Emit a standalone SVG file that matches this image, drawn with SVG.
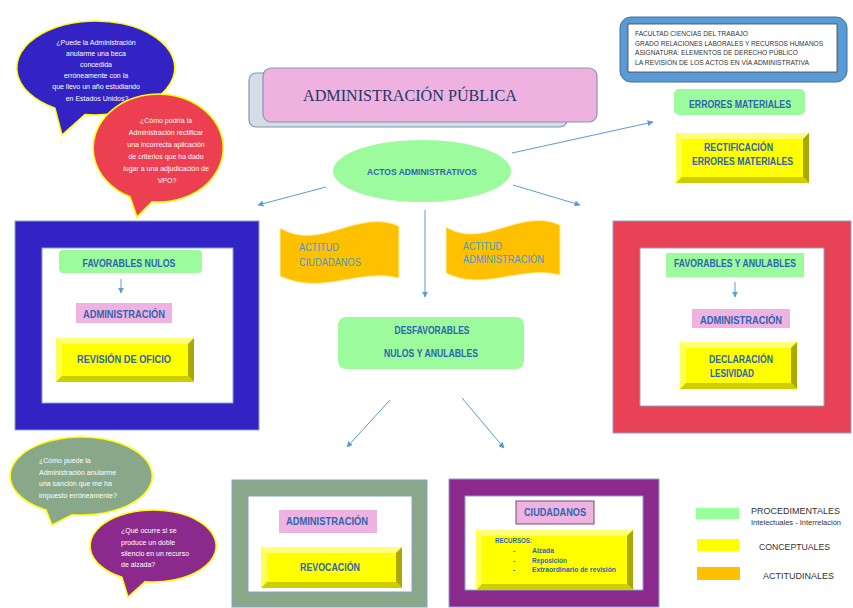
<svg xmlns="http://www.w3.org/2000/svg" width="853" height="608" viewBox="0 0 853 608">
<defs>
<marker id="ah" viewBox="0 0 10 10" refX="9" refY="5" markerWidth="6" markerHeight="6" orient="auto" markerUnits="userSpaceOnUse">
<path d="M0,0 L10,5 L0,10 Z" fill="#5b9bd5"/>
</marker>
<style>
text{font-family:"Liberation Sans",Arial,sans-serif}
.serif{font-family:"Liberation Serif","Times New Roman",serif}
.lbl{font-weight:bold;font-size:10px;fill:#2e64b0}
.lbl.sm{font-size:7px}
.lbl.md{font-size:9px}
.att{font-size:10px;fill:#4a96d6}
.bub{font-size:7px;fill:#ffffff}
.hdr{font-size:7px;fill:#333333}
.leg{font-size:9.5px;fill:#333333}
.leg.sm{font-size:6.5px}
.green{fill:#9cfb9c}
.pink{fill:#efb3e1}
.frame-in{fill:#ffffff;stroke:#8aa2c8;stroke-width:1}
.bv-face{fill:#ffff00}
.bv-top{fill:#ffff7a}
.bv-left{fill:#ffff55}
.bv-right{fill:#a9a900}
.bv-bot{fill:#cdcd00}
.wave{fill:#ffc000;stroke:#fff099;stroke-width:1}
.conn{stroke:#5b9bd5;stroke-width:1;fill:none;marker-end:url(#ah)}
.bubs{stroke:#ffff00;stroke-width:1.5}
</style>
</defs>

<!-- speech bubbles -->
<g id="bubble-beca">
<path class="bubs" fill="#3323c4" d="M55,108.2 A79 47 0 1 1 85,114.5 L62,135 Z"/>
<text class="bub" text-anchor="middle">
<tspan x="97" y="45">¿Puede la Administración</tspan>
<tspan x="97" y="56">anularme una beca</tspan>
<tspan x="97" y="66.5">concedida</tspan>
<tspan x="97" y="77.5">erróneamente con la</tspan>
<tspan x="97" y="89">que llevo un año estudiando</tspan>
<tspan x="97" y="101">en Estados Unidos?</tspan>
</text>
</g>
<g id="bubble-vpo">
<path class="bubs" fill="#ec4052" d="M130,196.7 A65 54 0 1 1 152,201.8 L137,217 Z"/>
<text class="bub" text-anchor="middle">
<tspan x="167" y="122.5">¿Cómo podría la</tspan>
<tspan x="167" y="134.5">Administración rectificar</tspan>
<tspan x="167" y="146.5">una incorrecta aplicación</tspan>
<tspan x="167" y="159">de criterios que ha dado</tspan>
<tspan x="167" y="170.5">lugar a una adjudicación de</tspan>
<tspan x="167" y="182.5">VPO?</tspan>
</text>
</g>
<g id="bubble-sancion">
<path class="bubs" fill="#89a889" d="M46,509.9 A71 39 0 1 1 72,514.7 L52,525 Z"/>
<text class="bub">
<tspan x="39" y="462.5">¿Cómo puede la</tspan>
<tspan x="39" y="474.5">Administración anularme</tspan>
<tspan x="39" y="485.5">una sanción que me ha</tspan>
<tspan x="39" y="497.5">impuesto erróneamente?</tspan>
</text>
</g>
<g id="bubble-silencio">
<path class="bubs" fill="#8b2a8c" d="M122,577.3 A63 36 0 1 1 145,581.7 L128,597 Z"/>
<text class="bub">
<tspan x="121" y="532.5">¿Qué ocurre si se</tspan>
<tspan x="121" y="544.5">produce un doble</tspan>
<tspan x="121" y="555.5">silencio en un recurso</tspan>
<tspan x="121" y="566.5">de alzada?</tspan>
</text>
</g>

<!-- title -->
<g id="title">
<rect x="249" y="73" width="318" height="54" rx="7" fill="#d6dce5" stroke="#8497b0" stroke-width="1.2"/>
<rect x="263" y="68" width="334" height="54" rx="8" fill="#efb1df" stroke="#8497b0" stroke-width="1.2"/>
<text class="serif" x="303" y="101" font-size="16" fill="#1f3864" textLength="214" lengthAdjust="spacingAndGlyphs">ADMINISTRACIÓN PÚBLICA</text>
</g>

<!-- header -->
<g id="header">
<rect x="620" y="17" width="227" height="65" rx="11" fill="#5b9bd5" stroke="#41719c" stroke-width="1"/>
<rect x="628" y="24" width="209" height="48" fill="#ffffff" stroke="#404040" stroke-width="0.8"/>
<text class="hdr" x="635" y="36" textLength="113" lengthAdjust="spacingAndGlyphs">FACULTAD CIENCIAS DEL TRABAJO</text>
<text class="hdr" x="635" y="45.5" textLength="188" lengthAdjust="spacingAndGlyphs">GRADO RELACIONES LABORALES Y RECURSOS HUMANOS</text>
<text class="hdr" x="635" y="55" textLength="163" lengthAdjust="spacingAndGlyphs">ASIGNATURA: ELEMENTOS DE DERECHO PÚBLICO</text>
<text class="hdr" x="635" y="64.5" textLength="174" lengthAdjust="spacingAndGlyphs">LA REVISIÓN DE LOS ACTOS EN VÍA ADMINISTRATIVA</text>
</g>

<!-- actos administrativos -->
<g id="actos">
<ellipse cx="422" cy="171" rx="89" ry="31" class="green"/>
<text class="lbl md" x="422" y="174.5" text-anchor="middle" textLength="110" lengthAdjust="spacingAndGlyphs">ACTOS ADMINISTRATIVOS</text>
</g>

<g id="errores-materiales">
<rect x="674" y="89" width="131" height="26" rx="5" class="green"/>
<text class="lbl" x="740" y="107.5" text-anchor="middle" textLength="102" lengthAdjust="spacingAndGlyphs">ERRORES MATERIALES</text>
</g>

<g id="rectificacion">
<rect x="676" y="133" width="133" height="50" class="bv-face"/>
<path class="bv-top" d="M676,133 L809,133 L803,139 L682,139 Z"/>
<path class="bv-left" d="M676,133 L682,139 L682,177 L676,183 Z"/>
<path class="bv-right" d="M809,133 L809,183 L803,177 L803,139 Z"/>
<path class="bv-bot" d="M676,183 L682,177 L803,177 L809,183 Z"/>
<text class="lbl" x="704" y="150.5" textLength="69" lengthAdjust="spacingAndGlyphs">RECTIFICACIÓN</text>
<text class="lbl" x="692" y="164.5" textLength="101" lengthAdjust="spacingAndGlyphs">ERRORES MATERIALES</text>
</g>

<!-- left frame -->
<g id="favorables-nulos-frame">
<rect x="15" y="221" width="244" height="209" fill="#3323c4" stroke="#8aa2c8" stroke-width="1"/>
<rect x="42" y="248" width="191" height="155" class="frame-in"/>
</g>
<g id="favorables-nulos">
<rect x="59" y="250" width="143" height="23" rx="4" class="green"/>
<text class="lbl" x="129" y="266.5" text-anchor="middle" textLength="93" lengthAdjust="spacingAndGlyphs">FAVORABLES NULOS</text>
</g>
<g id="admin-left">
<rect x="76" y="303" width="96" height="20" class="pink"/>
<text class="lbl" x="124" y="317.5" text-anchor="middle" textLength="82" lengthAdjust="spacingAndGlyphs">ADMINISTRACIÓN</text>
</g>
<g id="revision-oficio">
<rect x="56" y="338" width="138" height="44" class="bv-face"/>
<path class="bv-top" d="M56,338 L194,338 L188,344 L62,344 Z"/>
<path class="bv-left" d="M56,338 L62,344 L62,376 L56,382 Z"/>
<path class="bv-right" d="M194,338 L194,382 L188,376 L188,344 Z"/>
<path class="bv-bot" d="M56,382 L62,376 L188,376 L194,382 Z"/>
<text class="lbl" x="124" y="362.5" text-anchor="middle" textLength="94" lengthAdjust="spacingAndGlyphs">REVISIÓN  DE OFICIO</text>
</g>

<!-- attitude flags -->
<g id="actitud-ciudadanos">
<path class="wave" d="M280,228 C320,252 358,208 399,226 L399,278 C358,268 322,296 280,276 Z"/>
<text class="att" x="299" y="250.5" textLength="40" lengthAdjust="spacingAndGlyphs">ACTITUD</text>
<text class="att" x="299" y="265.5" textLength="62" lengthAdjust="spacingAndGlyphs">CIUDADANOS</text>
</g>
<g id="actitud-administracion">
<path class="wave" d="M446,227 C484,250 520,207 560,225 L560,275 C520,265 484,292 446,273 Z"/>
<text class="att" x="463" y="249.5" textLength="39" lengthAdjust="spacingAndGlyphs">ACTITUD</text>
<text class="att" x="463" y="262.5" textLength="81" lengthAdjust="spacingAndGlyphs">ADMINISTRACIÓN</text>
</g>

<!-- desfavorables -->
<g id="desfavorables">
<rect x="338" y="317" width="186" height="52" rx="8" class="green"/>
<text class="lbl" x="432" y="333.5" text-anchor="middle" textLength="75" lengthAdjust="spacingAndGlyphs">DESFAVORABLES</text>
<text class="lbl" x="431" y="356.5" text-anchor="middle" textLength="94" lengthAdjust="spacingAndGlyphs">NULOS Y ANULABLES</text>
</g>

<!-- right frame -->
<g id="favorables-anulables-frame">
<rect x="613" y="221" width="238" height="212" fill="#e94256" stroke="#8aa2c8" stroke-width="1"/>
<rect x="640" y="248" width="184" height="158" class="frame-in"/>
</g>
<g id="favorables-anulables">
<rect x="666" y="253" width="138" height="24" class="green"/>
<text class="lbl" x="735" y="266.5" text-anchor="middle" textLength="122" lengthAdjust="spacingAndGlyphs">FAVORABLES Y ANULABLES</text>
</g>
<g id="admin-right">
<rect x="692" y="309" width="98" height="19" class="pink"/>
<text class="lbl" x="741" y="323.5" text-anchor="middle" textLength="82" lengthAdjust="spacingAndGlyphs">ADMINISTRACIÓN</text>
</g>
<g id="declaracion-lesividad">
<rect x="680" y="342" width="117" height="47" class="bv-face"/>
<path class="bv-top" d="M680,342 L797,342 L791,348 L686,348 Z"/>
<path class="bv-left" d="M680,342 L686,348 L686,383 L680,389 Z"/>
<path class="bv-right" d="M797,342 L797,389 L791,383 L791,348 Z"/>
<path class="bv-bot" d="M680,389 L686,383 L791,383 L797,389 Z"/>
<text class="lbl" x="709" y="362.5" textLength="64" lengthAdjust="spacingAndGlyphs">DECLARACIÓN</text>
<text class="lbl" x="710" y="376.5" textLength="44" lengthAdjust="spacingAndGlyphs">LESIVIDAD</text>
</g>

<!-- bottom green-gray frame -->
<g id="revocacion-frame">
<rect x="232" y="480" width="195" height="127" fill="#89a889" stroke="#8aa2c8" stroke-width="1"/>
<rect x="248" y="496" width="164" height="96" class="frame-in"/>
</g>
<g id="admin-bottom">
<rect x="279" y="510" width="98" height="23" class="pink"/>
<text class="lbl" x="327" y="524.5" text-anchor="middle" textLength="82" lengthAdjust="spacingAndGlyphs">ADMINISTRACIÓN</text>
</g>
<g id="revocacion">
<rect x="261" y="547" width="141" height="41" class="bv-face"/>
<path class="bv-top" d="M261,547 L402,547 L396,553 L267,553 Z"/>
<path class="bv-left" d="M261,547 L267,553 L267,582 L261,588 Z"/>
<path class="bv-right" d="M402,547 L402,588 L396,582 L396,553 Z"/>
<path class="bv-bot" d="M261,588 L267,582 L396,582 L402,588 Z"/>
<text class="lbl" x="330" y="570.5" text-anchor="middle" textLength="60" lengthAdjust="spacingAndGlyphs">REVOCACIÓN</text>
</g>

<!-- bottom purple frame -->
<g id="ciudadanos-frame">
<rect x="449" y="479" width="210" height="128" fill="#8b2a8c" stroke="#8aa2c8" stroke-width="1"/>
<rect x="465" y="496" width="178" height="94" class="frame-in"/>
</g>
<g id="ciudadanos">
<rect x="516" y="501" width="78" height="23" class="pink" stroke="#7a4a6a" stroke-width="1"/>
<text class="lbl" x="555" y="515.5" text-anchor="middle" textLength="62" lengthAdjust="spacingAndGlyphs">CIUDADANOS</text>
</g>
<g id="recursos">
<rect x="476" y="530" width="157" height="60" class="bv-face"/>
<path class="bv-top" d="M476,530 L633,530 L627,536 L482,536 Z"/>
<path class="bv-left" d="M476,530 L482,536 L482,584 L476,590 Z"/>
<path class="bv-right" d="M633,530 L633,590 L627,584 L627,536 Z"/>
<path class="bv-bot" d="M476,590 L482,584 L627,584 L633,590 Z"/>
<text class="lbl sm" x="495" y="543" textLength="37" lengthAdjust="spacingAndGlyphs">RECURSOS:</text>
<text class="lbl sm"><tspan x="513" y="552.5">-</tspan><tspan x="513" y="562.5">-</tspan><tspan x="513" y="572">-</tspan></text>
<text class="lbl sm" x="532" y="552.5" textLength="22" lengthAdjust="spacingAndGlyphs">Alzada</text>
<text class="lbl sm" x="532" y="562.5" textLength="35" lengthAdjust="spacingAndGlyphs">Reposición</text>
<text class="lbl sm" x="532" y="572" textLength="84" lengthAdjust="spacingAndGlyphs">Extraordinario de revisión</text>
</g>

<!-- legend -->
<g id="legend">
<rect x="696" y="508" width="43" height="11" fill="#99ff99"/>
<rect x="697" y="539" width="42" height="12" fill="#ffff00"/>
<rect x="697" y="567" width="43" height="13" fill="#ffc000"/>
<text class="leg" x="751" y="513.5" textLength="89" lengthAdjust="spacingAndGlyphs">PROCEDIMENTALES</text>
<text class="leg sm" x="751" y="524.5" textLength="90" lengthAdjust="spacingAndGlyphs">Intelectuales - Interrelación</text>
<text class="leg" x="759" y="550" textLength="71" lengthAdjust="spacingAndGlyphs">CONCEPTUALES</text>
<text class="leg" x="763" y="578.5" textLength="71" lengthAdjust="spacingAndGlyphs">ACTITUDINALES</text>
</g>

<!-- connectors -->
<g id="connectors">
<line class="conn" x1="326" y1="187" x2="258" y2="205"/>
<line class="conn" x1="513" y1="185" x2="580" y2="205"/>
<line class="conn" x1="425" y1="210" x2="425" y2="297"/>
<line class="conn" x1="512" y1="153" x2="653" y2="122"/>
<line class="conn" x1="121" y1="279" x2="121" y2="293"/>
<line class="conn" x1="735" y1="282" x2="735" y2="297"/>
<line class="conn" x1="390" y1="400" x2="347" y2="447"/>
<line class="conn" x1="462" y1="398" x2="504" y2="448"/>
</g>
</svg>
